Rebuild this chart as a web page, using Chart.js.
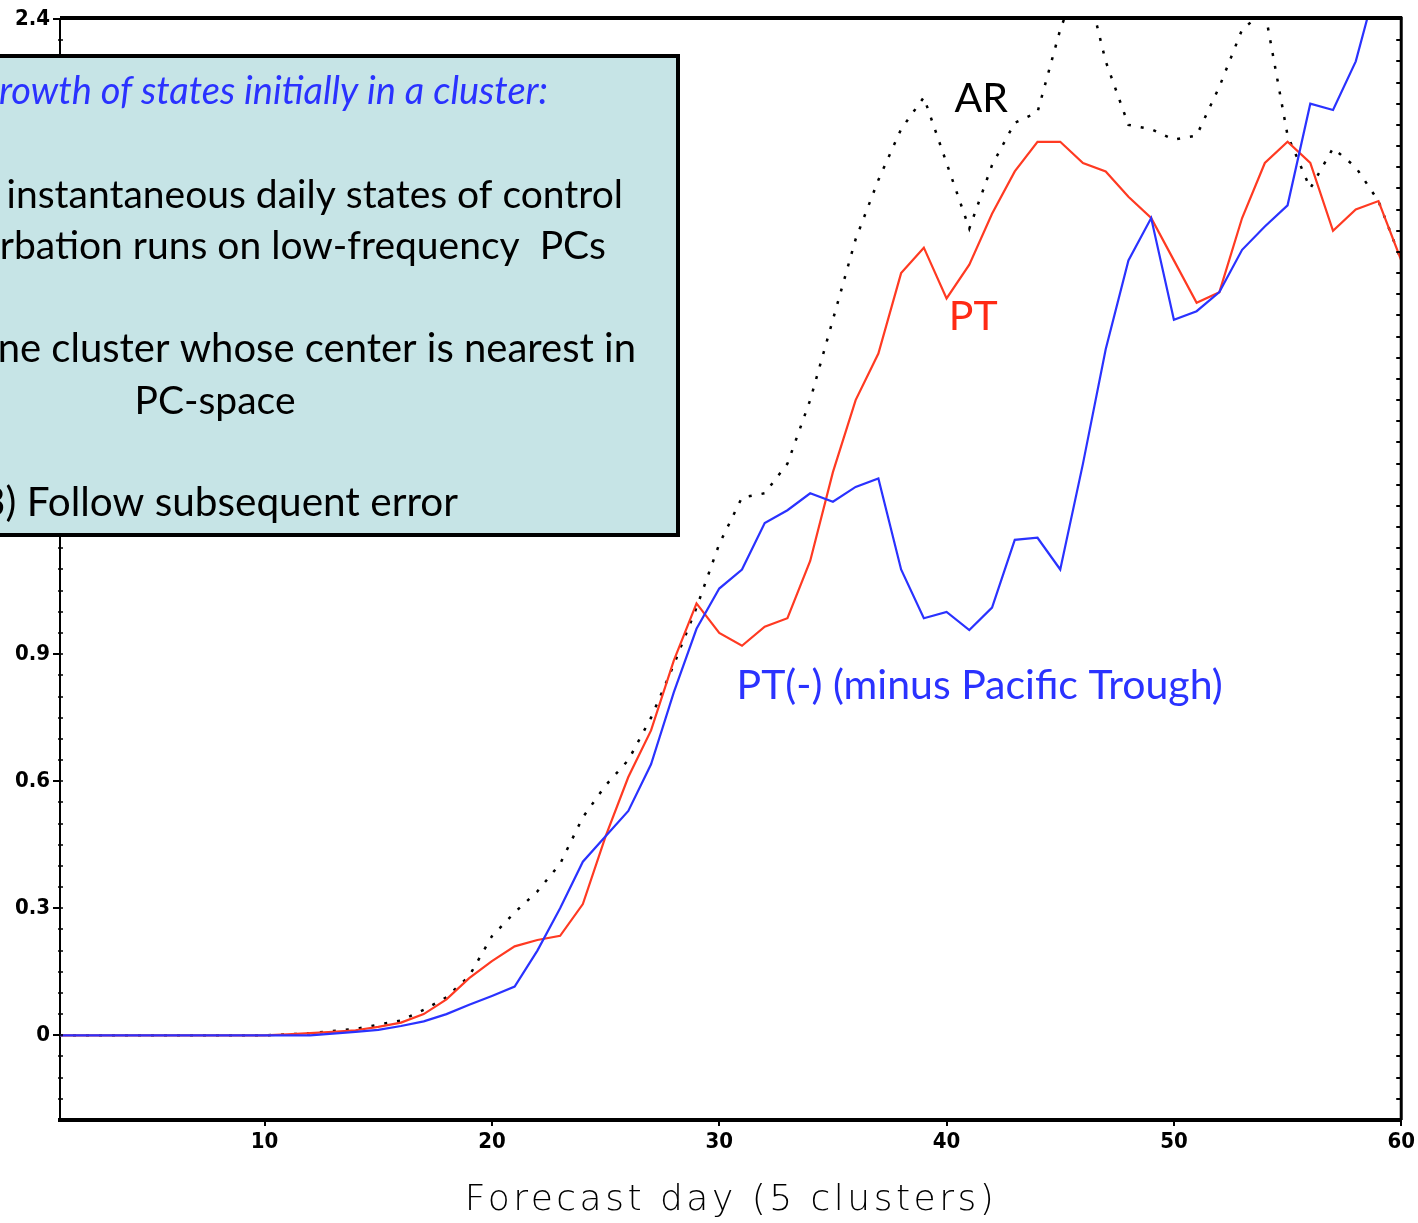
<!DOCTYPE html>
<html>
<head>
<meta charset="utf-8">
<script src="https://cdn.jsdelivr.net/npm/chart.js@4"></script>
<style>
  html, body { margin: 0; padding: 0; background: #ffffff; overflow: hidden; }
  #wrap { width: 1418px; height: 1223px; position: relative; }
</style>
</head>
<body>
<div id="wrap"><canvas id="c" width="1418" height="1223"></canvas></div>
<script>
// Forecast day (1..60)
const days = [1,2,3,4,5,6,7,8,9,10,11,12,13,14,15,16,17,18,19,20,
              21,22,23,24,25,26,27,28,29,30,31,32,33,34,35,36,37,38,39,40,
              41,42,43,44,45,46,47,48,49,50,51,52,53,54,55,56,57,58,59,60];

// Error of states starting in the AR cluster
const arError = [0,0,0,0,0,0,0,0,0,0,
                 0.002,0.005,0.010,0.015,0.025,0.035,0.060,0.090,0.140,0.234,
                 0.290,0.340,0.405,0.515,0.590,0.650,0.750,0.875,1.010,1.160,
                 1.270,1.280,1.350,1.500,1.690,1.880,2.020,2.140,2.215,2.060,
                 1.905,2.055,2.155,2.180,2.375,2.520,2.300,2.150,2.140,2.115,
                 2.125,2.240,2.375,2.420,2.125,2.000,2.095,2.050,1.970,1.830];

// Error of states starting in the PT cluster
const ptError = [0,0,0,0,0,0,0,0,0,0,
                 0.002,0.005,0.008,0.012,0.020,0.030,0.050,0.085,0.135,0.175,
                 0.210,0.225,0.235,0.310,0.470,0.610,0.720,0.885,1.020,0.950,
                 0.920,0.965,0.985,1.120,1.330,1.500,1.610,1.800,1.860,1.740,
                 1.820,1.940,2.040,2.110,2.110,2.060,2.040,1.980,1.930,1.830,
                 1.730,1.755,1.930,2.060,2.110,2.060,1.900,1.950,1.970,1.830];

// Error of states starting in the PT(-) cluster
const ptMinusError = [0,0,0,0,0,0,0,0,0,0,
                      0,0,0.004,0.008,0.013,0.022,0.033,0.050,0.072,0.093,
                      0.115,0.200,0.300,0.410,0.470,0.530,0.640,0.810,0.960,1.055,
                      1.100,1.210,1.240,1.280,1.260,1.295,1.315,1.100,0.985,1.000,
                      0.957,1.010,1.170,1.175,1.100,1.350,1.620,1.830,1.930,1.690,
                      1.710,1.755,1.855,1.910,1.960,2.200,2.185,2.300,2.500,2.650];

const yTickValues = [0, 0.3, 0.6, 0.9, 1.2, 1.5, 1.8, 2.1, 2.4];
const xTickValues = [10, 20, 30, 40, 50, 60];

const toPoints = vals => days.map((d, i) => ({ x: d, y: vals[i] }));

const tickFont = { family: '"DejaVu Sans Condensed", "DejaVu Sans"', size: 22, weight: 'bold' };

// Frame, side ticks, axis title, text box and curve labels
const decorations = {
  id: 'decorations',
  afterDraw(chart) {
    const { ctx, chartArea: a, scales } = chart;
    const xs = scales.x, ys = scales.y;
    ctx.save();

    // top and right frame
    ctx.strokeStyle = '#000';
    ctx.lineWidth = 4;
    ctx.beginPath();
    ctx.moveTo(a.left, a.top - 1);
    ctx.lineTo(a.right + 1, a.top - 1);
    ctx.stroke();
    ctx.lineWidth = 3;
    ctx.beginPath();
    ctx.moveTo(a.right, a.top - 2);
    ctx.lineTo(a.right, a.bottom);
    ctx.stroke();

    // small inward ticks along the right frame and minor ticks on the left axis
    ctx.lineWidth = 2;
    for (let v = -0.15; v < 2.4; v += 0.05) {
      const y = Math.round(ys.getPixelForValue(v));
      ctx.beginPath();
      ctx.moveTo(a.right, y);
      ctx.lineTo(a.right - 5, y);
      ctx.stroke();
    }
    ctx.lineWidth = 1.5;
    for (let v = -0.15; v < 2.4; v += 0.05) {
      const y = Math.round(ys.getPixelForValue(v));
      ctx.beginPath();
      ctx.moveTo(a.left - 2, y);
      ctx.lineTo(a.left + 3, y);
      ctx.stroke();
    }

    // x-axis title
    ctx.fillStyle = '#000';
    ctx.font = '200 36px "DejaVu Sans"';
    ctx.letterSpacing = '3.5px';
    ctx.textAlign = 'center';
    ctx.textBaseline = 'alphabetic';
    ctx.fillText('Forecast day (5 clusters)', 731, 1210);
    ctx.letterSpacing = '0px';

    // text box
    const bx = -10, by = 56, bw = 688, bh = 479;
    ctx.fillStyle = '#c6e4e6';
    ctx.fillRect(bx, by, bw, bh);
    ctx.lineWidth = 4;
    ctx.strokeStyle = '#000';
    ctx.strokeRect(bx, by, bw, bh);

    ctx.textAlign = 'right';
    ctx.fillStyle = '#2a32ff';
    ctx.font = 'italic 38px Lato';
    ctx.fillText('Error growth of states initially in a cluster:', 548, 104);

    ctx.fillStyle = '#000';
    ctx.font = '39px Lato';
    ctx.fillText('1) Project instantaneous daily states of control', 623, 208);
    ctx.fillText('and perturbation runs on low-frequency  PCs', 606, 259);
    ctx.font = '40px Lato';
    ctx.fillText('2) Assign to one cluster whose center is nearest in', 636, 362);
    ctx.font = '39px Lato';
    ctx.textAlign = 'center';
    ctx.fillText('PC-space', 215, 414);
    ctx.textAlign = 'right';
    ctx.font = '40.5px Lato';
    ctx.fillText('3) Follow subsequent error', 458, 516);

    // curve labels, placed in data coordinates
    ctx.textAlign = 'left';
    ctx.font = '41px Lato';
    ctx.fillStyle = '#000';
    ctx.fillText('AR', xs.getPixelForValue(40.35), ys.getPixelForValue(2.18));
    ctx.fillStyle = '#ff2a14';
    ctx.fillText('PT', xs.getPixelForValue(40.1), ys.getPixelForValue(1.665));
    ctx.fillStyle = '#2a32ff';
    ctx.fillText('PT(-) (minus Pacific Trough)', xs.getPixelForValue(30.76), ys.getPixelForValue(0.795));

    ctx.restore();
  }
};

new Chart(document.getElementById('c'), {
  type: 'line',
  data: {
    datasets: [
      {
        label: 'PT(-)',
        data: toPoints(ptMinusError),
        borderColor: '#2a32ff',
        borderWidth: 2.2,
        pointRadius: 0,
        tension: 0,
        order: 0
      },
      {
        label: 'PT',
        data: toPoints(ptError),
        borderColor: '#ff3a22',
        borderWidth: 2.2,
        pointRadius: 0,
        tension: 0,
        order: 1
      },
      {
        label: 'AR',
        data: toPoints(arError),
        borderColor: '#000000',
        borderWidth: 2.5,
        borderDash: [3, 10],
        pointRadius: 0,
        tension: 0,
        order: 2
      }
    ]
  },
  options: {
    responsive: false,
    animation: false,
    layout: { padding: { top: 19, right: 16, left: 0, bottom: 0 } },
    plugins: {
      legend: { display: false },
      tooltip: { enabled: false }
    },
    scales: {
      x: {
        type: 'linear',
        min: 1,
        max: 60,
        afterFit: s => { s.height = 103; },
        afterBuildTicks: s => { s.ticks = xTickValues.map(v => ({ value: v })); },
        grid: { display: true, drawOnChartArea: false, drawTicks: true, tickLength: 6, color: '#000', lineWidth: 2 },
        border: { display: true, color: '#000', width: 4 },
        ticks: {
          color: '#000',
          font: tickFont,
          padding: 3,
          maxRotation: 0,
          autoSkip: false
        }
      },
      y: {
        type: 'linear',
        min: -0.2,
        max: 2.4,
        afterFit: s => { s.width = 60; },
        afterBuildTicks: s => { s.ticks = yTickValues.map(v => ({ value: v })); },
        grid: { display: true, drawOnChartArea: false, drawTicks: true, tickLength: 7, color: '#000', lineWidth: 2 },
        border: { display: true, color: '#000', width: 2 },
        ticks: {
          color: '#000',
          font: tickFont,
          padding: 3,
          autoSkip: false,
          callback: v => String(Math.round(v * 10) / 10)
        }
      }
    }
  },
  plugins: [decorations]
});
</script>
</body>
</html>
